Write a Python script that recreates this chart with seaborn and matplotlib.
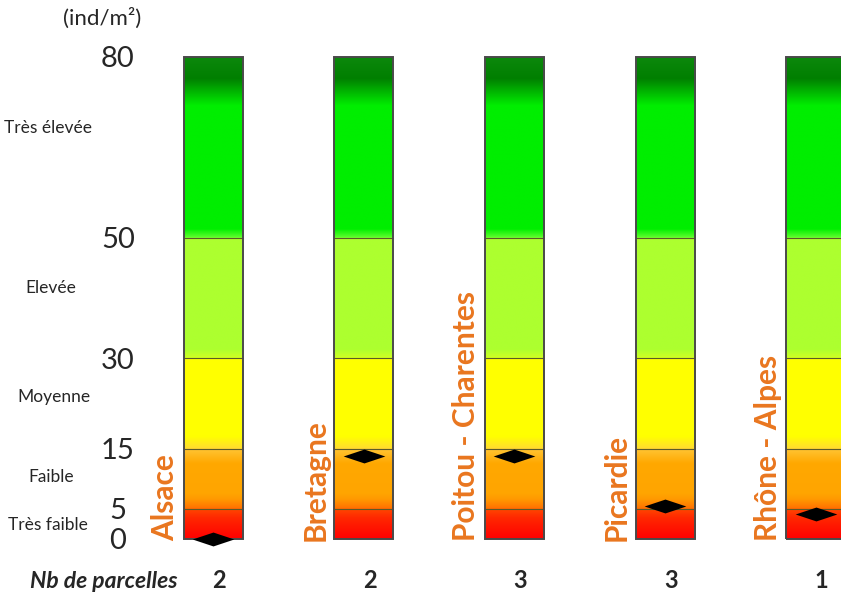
import numpy as np
import matplotlib
matplotlib.use("Agg")
import matplotlib.pyplot as plt
from matplotlib.colors import LinearSegmentedColormap
from matplotlib.path import Path
import seaborn as sns

# Data
regions = ["Alsace", "Bretagne", "Poitou - Charentes", "Picardie", "Rhône - Alpes"]
densities = [0.0, 13.8, 13.7, 5.4, 4.1]          # ind/m²
nb_parcelles = [2, 2, 3, 3, 1]
thresholds = [0, 5, 15, 30, 50, 80]
classes = ["Très faible", "Faible", "Moyenne", "Elevée", "Très élevée"]
unit_label = "(ind/m²)"
count_label = "Nb de parcelles"

ORANGE = "#E9761F"
YMAX = 80

sns.set_style("white")
plt.rcParams["font.family"] = ["Lato", "DejaVu Sans"]

# pixel -> data helpers (chart laid out on a full-figure axes)
X0, DX = 213.0, 150.7
Y0, DY = 539.0, 6.025
def px2x(px):
    return (px - X0) / DX
def py2y(py):
    return (Y0 - py) / DY

# vertical gradient used inside each column
stops = [
    (0.0, "#FF0000"), (3.5, "#FF2800"), (4.99, "#FF4800"),
    (5.0, "#FF7000"), (6.5, "#FF9800"), (7.5, "#FFA500"),
    (12.5, "#FFA800"), (14.99, "#FFC535"),
    (15.0, "#FFDC30"), (17.0, "#FFFF00"), (29.99, "#FFFF00"),
    (30.0, "#D2FF22"), (31.5, "#ADFF2F"), (49.99, "#ADFF2F"),
    (50.0, "#62FF30"), (51.5, "#00EE00"), (72.0, "#00EE00"),
    (76.5, "#007F00"), (80.0, "#0C880C"),
]
cmap = LinearSegmentedColormap.from_list("density", [(v / YMAX, c) for v, c in stops], N=1024)
grad = np.linspace(0, YMAX, 1600).reshape(-1, 1)

fig = plt.figure(figsize=(8.41, 5.95), dpi=100)
ax = fig.add_axes([0, 0, 1, 1])

half = 29.5 / DX
xs = np.arange(len(regions))
for i in xs:
    ax.imshow(grad, cmap=cmap, vmin=0, vmax=YMAX, origin="lower", aspect="auto",
              extent=[i - half, i + half, 0, YMAX], interpolation="bilinear", zorder=1)
    ax.hlines(thresholds[1:-1], i - half, i + half, colors="#5A5A28", linewidth=0.8, zorder=2)
ax.bar(xs, [YMAX] * len(xs), width=2 * half, bottom=0, fill=False,
       edgecolor="#4A4A4A", linewidth=1.4, zorder=3)

# diamonds marking the measured density
diamond = Path([(-3, 0), (0, 1), (3, 0), (0, -1), (-3, 0)],
               [Path.MOVETO, Path.LINETO, Path.LINETO, Path.LINETO, Path.CLOSEPOLY])
sns.scatterplot(x=xs, y=densities, marker=diamond, s=900, color="black",
                edgecolor="black", linewidth=0, ax=ax, zorder=5, legend=False, clip_on=False)
ax.set_xlim(px2x(0), px2x(841))
ax.set_ylim(py2y(595), py2y(0))
ax.axis("off")

# left scale
ax.text(px2x(102), py2y(18), unit_label, ha="center", va="center", fontsize=16)
for t in thresholds:
    ax.text(px2x(118), t - 0.4, str(t), ha="center", va="center", fontsize=21)
label_px = [(48, 525), (51, 477), (54, 397), (51, 288), (48, 128)]
for name, (lx, ly) in zip(classes, label_px):
    ax.text(px2x(lx), py2y(ly), name, ha="center", va="center", fontsize=12.5)

# region names and plot counts
for i, (name, n) in enumerate(zip(regions, nb_parcelles)):
    ax.text(i - 48 / DX, py2y(541), name, rotation=90, ha="center", va="bottom",
            color=ORANGE, fontsize=21.5, fontweight="bold")
    ax.text(i + 6 / DX, py2y(581), str(n), ha="center", va="center",
            fontsize=17, fontweight="bold")
ax.text(px2x(178), py2y(581), count_label, ha="right", va="center",
        fontsize=16.5, fontweight="bold", fontstyle="italic")

fig.savefig("out.png", dpi=100)
